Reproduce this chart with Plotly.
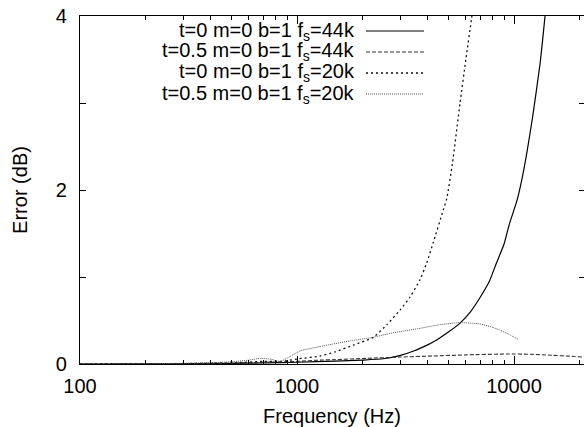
import plotly.graph_objects as go

# ---- data ----
f_t0_44k = [100, 200, 300, 500, 700, 1000, 1500, 2000, 2500, 3000, 3500, 3690, 4000, 4400, 5000,
            5640, 6300, 7000, 7700, 8300, 9000, 9500, 10350, 10850, 11500, 12200, 13200, 13900, 14500]
e_t0_44k = [0, 0.002, 0.004, 0.008, 0.012, 0.02, 0.033, 0.045, 0.06, 0.1, 0.155, 0.18, 0.22, 0.276, 0.37,
            0.47, 0.6, 0.77, 0.95, 1.16, 1.38, 1.6, 1.89, 2.11, 2.45, 2.85, 3.46, 4.0, 4.5]

f_t05_44k = [100, 200, 300, 500, 700, 1000, 1276, 1500, 2090, 3000, 4240, 6000, 9250, 12000, 15000, 18000, 21800, 22050]
e_t05_44k = [0, 0.002, 0.005, 0.01, 0.02, 0.03, 0.045, 0.05, 0.065, 0.08, 0.092, 0.105, 0.115, 0.112, 0.1, 0.09, 0.077, 0.076]

f_t0_20k = [100, 200, 300, 500, 700, 850, 1000, 1276, 1500, 1820, 2250, 2590, 2985, 3320, 3690,
            3960, 4250, 4720, 4898, 5200, 5640, 6000, 6380, 6700]
e_t0_20k = [0, 0.002, 0.005, 0.012, 0.03, 0.03, 0.057, 0.092, 0.14, 0.218, 0.307, 0.45, 0.62, 0.77, 0.97,
            1.16, 1.4, 1.77, 1.9, 2.3, 3.0, 3.5, 3.98, 4.4]

f_t05_20k = [100, 200, 300, 400, 500, 600, 676, 760, 834, 929, 1032, 1276, 1466, 1754, 2168, 2800,
             3690, 4500, 5640, 6970, 8000, 8600, 9500, 10480]
e_t05_20k = [0, 0.003, 0.008, 0.015, 0.025, 0.045, 0.065, 0.055, 0.03, 0.085, 0.15, 0.2, 0.23, 0.265,
             0.3, 0.36, 0.41, 0.45, 0.475, 0.46, 0.42, 0.39, 0.34, 0.28]

labels = ["t=0 m=0 b=1 f<sub>s</sub>=44k",
          "t=0.5 m=0 b=1 f<sub>s</sub>=44k",
          "t=0 m=0 b=1 f<sub>s</sub>=20k",
          "t=0.5 m=0 b=1 f<sub>s</sub>=20k"]

x_major = [100, 1000, 10000]
x_minor = [v * m for v in (100, 1000, 10000) for m in range(2, 10)]
y_major = [0, 2, 4]
y_minor = [1, 3]

FONT = "Liberation Sans, Arial, Helvetica, sans-serif"
styles = [
    dict(color="black", width=1.2, dash="solid"),
    dict(color="#333333", width=1.1, dash="4px,2px"),
    dict(color="#111111", width=1.3, dash="2px,3px"),
    dict(color="#555555", width=1.0, dash="1px,1px"),
]
series = [(f_t0_44k, e_t0_44k), (f_t05_44k, e_t05_44k), (f_t0_20k, e_t0_20k), (f_t05_20k, e_t05_20k)]

fig = go.Figure()
for (fx, ey), st, lab in zip(series, styles, labels):
    fig.add_trace(go.Scatter(x=fx, y=ey, mode="lines", line=dict(shape="spline", smoothing=0.5, **st),
                             name=lab, showlegend=False))

# dummy trace for right-side ticks
fig.add_trace(go.Scatter(x=[None], y=[None], yaxis="y2", showlegend=False))

# manual legend (text right-aligned, sample line on the right)
L, T, B = 80, 16, 63
W, H = 584, 427
rows = [31, 52, 73, 94]
for lab, st, yy in zip(labels, styles, rows):
    yp = 1 - (yy - T) / (H - T - B)
    fig.add_annotation(text=lab, xref="paper", yref="paper", x=(357 - L) / (W - L), y=yp,
                       xanchor="right", yanchor="middle", showarrow=False,
                       font=dict(family=FONT, size=20, color="black"))
    fig.add_shape(type="line", xref="paper", yref="paper",
                  x0=(366 - L) / (W - L), x1=(424 - L) / (W - L), y0=yp, y1=yp,
                  line=dict(color=st["color"], width=st["width"], dash=st["dash"]))

fig.update_layout(
    width=W, height=H,
    margin=dict(l=L, r=0, t=T, b=B),
    paper_bgcolor="white", plot_bgcolor="white",
    font=dict(family=FONT, size=20, color="black"),
    xaxis=dict(type="log", range=[2, 4.3226], tickvals=x_major, ticktext=["100", "1000", "10000"],
               ticks="inside", ticklen=8, tickcolor="black", tickwidth=1,
               minor=dict(tickvals=x_minor, ticks="inside", ticklen=4, tickcolor="black", showgrid=False),
               showgrid=False, zeroline=False, showline=True, linecolor="black", linewidth=1.2,
               mirror="ticks", ticklabelstandoff=4,
               title=dict(text="Frequency (Hz)", standoff=12, font=dict(size=20))),
    yaxis=dict(range=[0, 4], tickvals=y_major, ticks="inside", ticklen=6, tickcolor="black",
               minor=dict(tickvals=y_minor, ticks="inside", ticklen=6, tickcolor="black", showgrid=False),
               showgrid=False, zeroline=False, showline=True, linecolor="black", linewidth=1.2,
               ticklabelstandoff=8,
               title=dict(text="Error (dB)", standoff=22, font=dict(size=20))),
    yaxis2=dict(range=[0, 4], overlaying="y", side="right", tickvals=[1, 2, 3], ticks="inside",
                ticklen=5, tickcolor="black", showticklabels=False, showgrid=False, zeroline=False,
                showline=False),
)

fig.write_html("out.html")
